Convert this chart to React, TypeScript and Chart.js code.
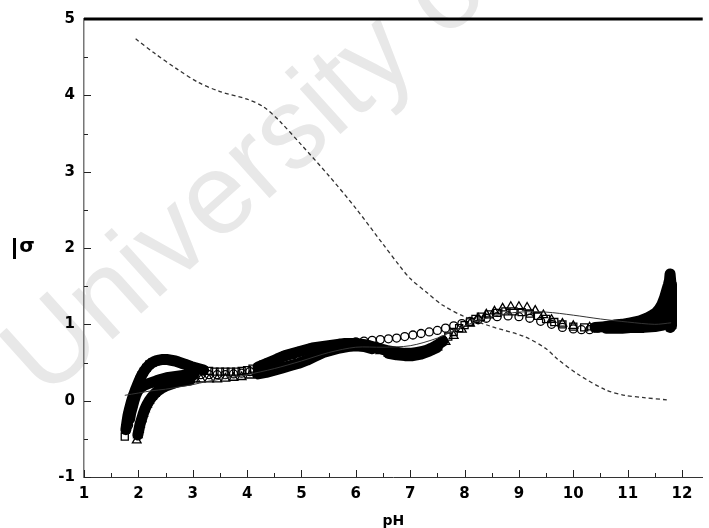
import React, { useEffect, useRef } from 'react';
import { Chart, registerables } from 'chart.js';

Chart.register(...registerables);

// ---- data ----
const dashX = [1.95, 2.3, 2.7, 3.1, 3.5, 4.0, 4.3, 4.6, 5.0, 5.5, 6.0, 6.5, 6.8, 7.0, 7.3, 7.6, 8.0, 8.5, 9.1, 9.5, 9.7, 10.1, 10.6, 10.95, 11.3, 11.73];
const dashY = [4.74, 4.55, 4.35, 4.17, 4.05, 3.95, 3.85, 3.66, 3.35, 2.95, 2.52, 2.05, 1.77, 1.6, 1.42, 1.25, 1.1, 0.97, 0.84, 0.68, 0.55, 0.34, 0.14, 0.07, 0.04, 0.01];

const sqX = [1.75, 1.77, 1.79, 1.81, 1.84, 1.87, 1.9, 1.94, 1.98, 2.02, 2.06, 2.1, 2.15, 2.2, 2.26, 2.32, 2.38, 2.45, 2.52, 2.6, 2.68, 2.76, 2.84, 2.92, 3.0, 3.1, 3.2, 3.3, 3.4, 3.5, 3.6, 3.7, 3.8, 3.9, 4.0, 4.1, 4.2, 4.3, 4.4, 4.5, 4.6, 4.7, 4.8, 4.9, 5.0, 5.1, 5.2, 5.3, 5.4, 5.5, 5.6, 5.7, 5.8, 5.9, 6.0, 6.1, 6.2, 6.3, 6.4, 6.5, 6.6, 6.7, 6.8, 6.9, 7.0, 7.1, 7.2, 7.3, 7.4, 7.5, 7.6, 7.7, 7.8, 7.9, 8.0, 8.1, 8.2, 8.3, 8.45, 8.6, 8.75, 8.9, 9.05, 9.2, 9.35, 9.5, 9.65, 9.8, 10.0, 10.2, 10.4, 10.6, 10.8, 11.0, 11.15, 11.3, 11.4, 11.5, 11.57, 11.62, 11.67, 11.7, 11.73, 11.76, 11.79, 11.8, 11.81, 11.81, 11.8, 11.78];
const sqY = [-0.47, -0.38, -0.28, -0.19, -0.1, -0.02, 0.05, 0.13, 0.2, 0.27, 0.33, 0.38, 0.43, 0.47, 0.5, 0.52, 0.53, 0.54, 0.54, 0.53, 0.52, 0.5, 0.48, 0.46, 0.44, 0.42, 0.4, 0.39, 0.38, 0.38, 0.38, 0.38, 0.38, 0.39, 0.4, 0.42, 0.44, 0.47, 0.5, 0.53, 0.56, 0.59, 0.61, 0.63, 0.65, 0.67, 0.69, 0.7, 0.71, 0.72, 0.73, 0.74, 0.75, 0.75, 0.75, 0.74, 0.73, 0.71, 0.69, 0.67, 0.65, 0.64, 0.63, 0.62, 0.62, 0.63, 0.64, 0.66, 0.69, 0.73, 0.78, 0.84, 0.9, 0.95, 0.99, 1.03, 1.07, 1.1, 1.13, 1.15, 1.17, 1.17, 1.16, 1.14, 1.11, 1.07, 1.03, 1.0, 0.97, 0.96, 0.96, 0.97, 0.98, 0.99, 1.0, 1.02, 1.04, 1.07, 1.11, 1.15, 1.2, 1.25, 1.3, 1.36, 1.44, 1.52, 1.38, 1.22, 1.06, 0.96];

const trX = [1.97, 1.99, 2.01, 2.03, 2.06, 2.09, 2.12, 2.16, 2.2, 2.25, 2.3, 2.36, 2.42, 2.5, 2.58, 2.66, 2.75, 2.85, 2.95, 3.05, 3.15, 3.3, 3.45, 3.6, 3.75, 3.9, 4.05, 4.2, 4.35, 4.5, 4.65, 4.8, 4.95, 5.1, 5.25, 5.4, 5.55, 5.7, 5.85, 6.0, 6.15, 6.3, 6.45, 6.6, 6.75, 6.9, 7.05, 7.2, 7.35, 7.5, 7.65, 7.8, 7.95, 8.1, 8.25, 8.4, 8.55, 8.7, 8.85, 9.0, 9.15, 9.3, 9.45, 9.6, 9.8, 10.0, 10.3, 10.6, 10.9, 11.1, 11.3, 11.5, 11.65, 11.72, 11.77, 11.8, 11.81, 11.81, 11.8];
const trY = [-0.52, -0.45, -0.38, -0.31, -0.24, -0.17, -0.11, -0.05, 0.0, 0.05, 0.09, 0.13, 0.16, 0.19, 0.21, 0.23, 0.25, 0.26, 0.27, 0.28, 0.28, 0.28, 0.28, 0.29, 0.3, 0.31, 0.33, 0.35, 0.37, 0.4, 0.43, 0.46, 0.49, 0.53, 0.58, 0.63, 0.66, 0.69, 0.71, 0.72, 0.71, 0.68, 0.65, 0.62, 0.6, 0.59, 0.59, 0.61, 0.65, 0.7, 0.77, 0.85, 0.93, 1.01, 1.08, 1.13, 1.17, 1.21, 1.23, 1.23, 1.22, 1.18, 1.12, 1.06, 1.01, 0.98, 0.96, 0.95, 0.95, 0.96, 0.96, 0.97, 0.99, 1.05, 1.15, 1.25, 1.32, 1.15, 0.98];

const ciX = [1.82, 1.84, 1.86, 1.89, 1.92, 1.95, 1.99, 2.04, 2.1, 2.17, 2.25, 2.33, 2.42, 2.52, 2.62, 2.72, 2.82, 2.92, 3.02, 3.15, 3.3, 3.45, 3.6, 3.75, 3.9, 4.05, 4.2, 4.35, 4.5, 4.65, 4.8, 4.95, 5.1, 5.25, 5.4, 5.55, 5.7, 5.85, 6.0, 6.15, 6.3, 6.45, 6.6, 6.75, 6.9, 7.05, 7.2, 7.35, 7.5, 7.65, 7.8, 7.95, 8.1, 8.25, 8.4, 8.6, 8.8, 9.0, 9.2, 9.4, 9.6, 9.8, 10.0, 10.15, 10.3, 10.45, 10.6, 10.75, 10.9, 11.05, 11.2, 11.35, 11.45, 11.52, 11.58, 11.63, 11.68, 11.72, 11.75, 11.77, 11.78, 11.8, 11.81, 11.81, 11.8];
const ciY = [-0.32, -0.24, -0.16, -0.08, 0.0, 0.07, 0.13, 0.17, 0.2, 0.22, 0.24, 0.26, 0.28, 0.3, 0.31, 0.32, 0.33, 0.33, 0.34, 0.34, 0.34, 0.34, 0.34, 0.35, 0.36, 0.38, 0.41, 0.44, 0.47, 0.51, 0.55, 0.58, 0.62, 0.66, 0.7, 0.73, 0.75, 0.76, 0.77, 0.78, 0.79, 0.8, 0.81, 0.82, 0.84, 0.86, 0.88, 0.9, 0.92, 0.95, 0.98, 1.01, 1.04, 1.06, 1.08, 1.1, 1.11, 1.1, 1.08, 1.04, 1.0, 0.96, 0.94, 0.93, 0.93, 0.95, 0.97, 0.99, 1.0, 1.02, 1.04, 1.08, 1.12, 1.15, 1.2, 1.26, 1.35, 1.45, 1.52, 1.58, 1.66, 1.5, 1.35, 1.18, 1.02];

const lnX = [1.75, 2.0, 2.25, 2.5, 2.75, 3.0, 3.25, 3.5, 3.75, 4.0, 4.5, 5.0, 5.5, 6.0, 6.5, 7.0, 7.5, 8.0, 8.5, 9.0, 9.5, 10.0, 10.5, 11.0, 11.5, 11.8];
const lnY = [0.07, 0.1, 0.13, 0.15, 0.18, 0.21, 0.25, 0.28, 0.31, 0.34, 0.42, 0.52, 0.63, 0.7, 0.7, 0.72, 0.82, 0.98, 1.1, 1.16, 1.16, 1.12, 1.07, 1.03, 1.0, 1.02];

const xMajorTicks = [1, 2, 3, 4, 5, 6, 7, 8, 9, 10, 11, 12];
const yMajorTicks = [-1, 0, 1, 2, 3, 4, 5];

const xAxisTitle = 'pH';
const yAxisSymbol = '\u03C3';
const watermarkText = 'University of';

const pts = (xs: number[], ys: number[]) => xs.map((x, i) => ({ x, y: ys[i] }));

const denseSq: [number, number][] = [[1.77, 3.2], [4.2, 6.4], [6.5, 7.6], [10.4, 13]];
const denseTr: [number, number][] = [[1.99, 3.0], [4.2, 6.4], [6.5, 7.6], [10.4, 13]];
const denseCi: [number, number][] = [[1.84, 3.1], [10.6, 13]];

const segColor = (ranges: [number, number][]) => (ctx: any) => {
  const a = ctx.p0.parsed.x;
  const b = ctx.p1.parsed.x;
  return ranges.some(([lo, hi]) => a >= lo && b <= hi) ? '#000' : 'rgba(0,0,0,0)';
};

const FONT = '"DejaVu Sans", "Liberation Sans", Arial, sans-serif';

const decorPlugin = {
  id: 'decor',
  beforeDraw(chart: any) {
    const { ctx } = chart;
    ctx.save();
    ctx.translate(45, 400);
    ctx.rotate((-42 * Math.PI) / 180);
    ctx.fillStyle = '#e8e8e8';
    ctx.font = '115px "Liberation Sans", Arial, sans-serif';
    ctx.textBaseline = 'alphabetic';
    ctx.fillText(watermarkText, 0, 0);
    ctx.restore();
  },
  afterDraw(chart: any) {
    const { ctx, chartArea, scales } = chart;
    const x = scales.x;
    const y = scales.y;
    ctx.save();
    ctx.strokeStyle = '#222';
    ctx.lineWidth = 1;
    const line = (x1: number, y1: number, x2: number, y2: number) => {
      ctx.beginPath();
      ctx.moveTo(x1, y1);
      ctx.lineTo(x2, y2);
      ctx.stroke();
    };
    xMajorTicks.forEach((v) => {
      const p = Math.round(x.getPixelForValue(v)) + 0.5;
      line(p, chartArea.bottom, p, chartArea.bottom - 7);
      const m = Math.round(x.getPixelForValue(v + 0.5)) + 0.5;
      if (v + 0.5 < x.max) line(m, chartArea.bottom, m, chartArea.bottom - 4);
    });
    yMajorTicks.forEach((v) => {
      const p = Math.round(y.getPixelForValue(v)) + 0.5;
      line(chartArea.left, p, chartArea.left + 7, p);
      if (v < 5) {
        const m = Math.round(y.getPixelForValue(v + 0.5)) + 0.5;
        line(chartArea.left, m, chartArea.left + 4, m);
      }
    });
    ctx.strokeStyle = '#000';
    ctx.lineWidth = 3;
    line(chartArea.left, chartArea.top, chartArea.right, chartArea.top);

    // y-axis title: sigma with its bar (as printed, the bar sits to the left)
    const cy = (chartArea.top + chartArea.bottom) / 2;
    ctx.fillStyle = '#000';
    ctx.fillRect(13, cy - 10, 3, 21);
    ctx.font = 'bold 20px ' + FONT;
    ctx.textAlign = 'center';
    ctx.textBaseline = 'middle';
    ctx.fillText(yAxisSymbol, 27, cy - 1);
    ctx.restore();
  },
};

export default function App() {
  const ref = useRef<HTMLCanvasElement | null>(null);

  useEffect(() => {
    if (!ref.current) return;
    const markerBase = {
      showLine: true,
      borderWidth: 11,
      borderColor: 'rgba(0,0,0,0)',
      borderJoinStyle: 'round',
      borderCapStyle: 'round',
      pointBorderColor: '#000',
      pointBackgroundColor: 'rgba(0,0,0,0)',
      pointBorderWidth: 1.3,
      tension: 0,
    };
    const chart = new Chart(ref.current, {
      type: 'scatter',
      data: {
        datasets: [
          {
            label: 'dashed',
            data: pts(dashX, dashY),
            showLine: true,
            borderColor: '#333',
            borderWidth: 1.3,
            borderDash: [4, 3],
            pointRadius: 0,
            tension: 0.3,
          },
          {
            label: 'line',
            data: pts(lnX, lnY),
            showLine: true,
            borderColor: '#333',
            borderWidth: 1,
            pointRadius: 0,
            tension: 0.3,
          },
          {
            ...markerBase,
            label: 'squares',
            data: pts(sqX, sqY),
            pointStyle: 'rect',
            pointRadius: 5,
            segment: { borderColor: segColor(denseSq) },
          },
          {
            ...markerBase,
            label: 'triangles',
            data: pts(trX, trY),
            pointStyle: 'triangle',
            pointRadius: 5,
            segment: { borderColor: segColor(denseTr) },
          },
          {
            ...markerBase,
            label: 'circles',
            data: pts(ciX, ciY),
            pointStyle: 'circle',
            pointRadius: 4,
            segment: { borderColor: segColor(denseCi) },
          },
        ],
      },
      options: {
        animation: false,
        responsive: false,
        devicePixelRatio: 1,
        layout: { padding: { top: 19, right: 0, left: 0, bottom: 0 } },
        plugins: { legend: { display: false }, tooltip: { enabled: false } },
        scales: {
          x: {
            type: 'linear',
            min: 1,
            max: 12.38,
            afterFit: (s: any) => { s.height = 51; },
            afterBuildTicks: (s: any) => { s.ticks = xMajorTicks.map((v) => ({ value: v })); },
            grid: { display: false, drawTicks: false },
            border: { display: true, color: '#333', width: 1 },
            ticks: {
              autoSkip: false,
              maxRotation: 0,
              padding: 8,
              color: '#000',
              font: { family: FONT, size: 15, weight: 'bold' },
            },
            title: {
              display: true,
              text: xAxisTitle,
              color: '#000',
              font: { family: FONT, size: 14, weight: 'bold' },
              padding: { top: 0, bottom: -2 },
            },
          },
          y: {
            type: 'linear',
            min: -1,
            max: 5,
            afterFit: (s: any) => { s.width = 84; },
            afterBuildTicks: (s: any) => { s.ticks = yMajorTicks.map((v) => ({ value: v })); },
            grid: { display: false, drawTicks: false },
            border: { display: true, color: '#777', width: 1.5 },
            ticks: {
              autoSkip: false,
              padding: 9,
              color: '#000',
              font: { family: FONT, size: 15, weight: 'bold' },
            },
            title: { display: false },
          },
        },
      },
      plugins: [decorPlugin],
    } as any);
    return () => chart.destroy();
  }, []);

  return (
    <div style={{ position: 'absolute', left: 0, top: 0, width: 709, height: 528, background: '#fff' }}>
      <canvas ref={ref} width={709} height={528} style={{ display: 'block' }} />
    </div>
  );
}
